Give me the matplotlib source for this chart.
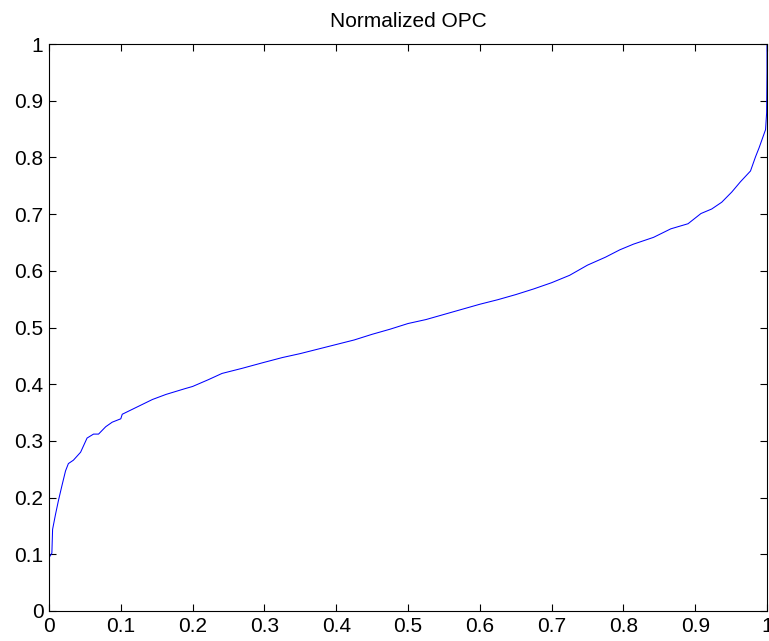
import matplotlib
matplotlib.use("Agg")
import matplotlib.pyplot as plt

# normalized rank (x) and normalized OPC value (y)
rank = [0.0, 0.0, 0.004, 0.005, 0.009, 0.013, 0.018, 0.023, 0.027, 0.034,
        0.044, 0.053, 0.062, 0.069, 0.079, 0.088, 0.100, 0.102, 0.123, 0.144,
        0.163, 0.189, 0.200, 0.222, 0.241, 0.269, 0.298, 0.325, 0.35, 0.375,
        0.40, 0.425, 0.45, 0.475, 0.50, 0.525, 0.55, 0.575, 0.60, 0.625,
        0.65, 0.675, 0.70, 0.725, 0.75, 0.775, 0.795, 0.814, 0.842, 0.866,
        0.890, 0.908, 0.923, 0.937, 0.951, 0.963, 0.977, 0.984, 0.989, 0.998,
        0.9995, 1.0, 1.0]
opc = [0.0, 0.094, 0.102, 0.144, 0.170, 0.194, 0.221, 0.247, 0.260, 0.266,
       0.280, 0.305, 0.312, 0.312, 0.325, 0.333, 0.339, 0.347, 0.360, 0.373,
       0.382, 0.392, 0.396, 0.408, 0.419, 0.428, 0.438, 0.447, 0.454, 0.462,
       0.470, 0.478, 0.488, 0.497, 0.507, 0.514, 0.523, 0.532, 0.541, 0.549,
       0.558, 0.568, 0.579, 0.592, 0.610, 0.624, 0.637, 0.647, 0.659, 0.674,
       0.683, 0.701, 0.709, 0.721, 0.739, 0.757, 0.776, 0.801, 0.817, 0.849,
       0.879, 0.95, 1.0]

xticks = [0, 0.1, 0.2, 0.3, 0.4, 0.5, 0.6, 0.7, 0.8, 0.9, 1]
tick_labels = ["0", "0.1", "0.2", "0.3", "0.4", "0.5", "0.6", "0.7", "0.8", "0.9", "1"]

plt.rcParams['font.family'] = ['Liberation Sans', 'DejaVu Sans']

fig = plt.figure(figsize=(7.69, 6.41), dpi=100)
ax = fig.add_axes([49 / 769, 30 / 641, 718 / 769, 567 / 641])

ax.plot(rank, opc, color=(0, 0, 1), lw=0.75)

ax.set_xlim(0, 1)
ax.set_ylim(0, 1)
ax.set_xticks(xticks)
ax.set_xticklabels(tick_labels)
ax.set_yticks(xticks)
ax.set_yticklabels(tick_labels)
ax.tick_params(direction='in', length=5, width=0.8, top=True, right=True,
               labelsize=15, pad=4)
for s in ax.spines.values():
    s.set_linewidth(0.8)

ax.set_title("Normalized OPC", fontsize=15, pad=12)

fig.savefig("out.png", dpi=100)
